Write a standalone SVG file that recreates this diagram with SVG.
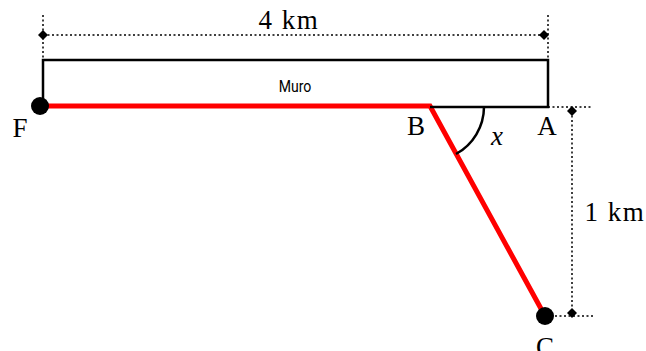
<svg xmlns="http://www.w3.org/2000/svg" width="646" height="351" viewBox="0 0 646 351">
<style>
.lbl{font-family:"Liberation Serif","DejaVu Serif",serif;font-size:27px;fill:#000;text-anchor:middle}
.dist{letter-spacing:1.5px}
.dim{stroke:#000;stroke-width:1.5;stroke-dasharray:2 2.5;fill:none}
.dia{fill:#000}
</style>
<rect width="646" height="351" fill="#fff"/>
<g id="connectors">
<path d="M43,35 H545 M43,15 V60 M548,15 V60" class="dim"/>
<path d="M548,107 H592 M572,111 V314 M555,316 H593" class="dim"/>
<path class="dia" d="M43,30 L48,35 L43,40 L38,35Z"/>
<path class="dia" d="M544,30 L549,35 L544,40 L539,35Z"/>
<path class="dia" d="M572,106 L577,111 L572,116 L567,111Z"/>
<path class="dia" d="M572,308 L577,313 L572,318 L567,313Z"/>
<path d="M41,106 H430 L545,316" stroke="#f00" stroke-width="5" fill="none" stroke-linejoin="miter"/>
<path d="M484,107 A54,54 0 0 1 456,154" stroke="#000" stroke-width="2.5" fill="none"/>
</g>
<g id="wall">
<path d="M43,106 V60 H548 V107 H430" stroke="#000" stroke-width="2.5" fill="none"/>
<text x="295" y="92" font-family="Roboto,'Liberation Sans',sans-serif" font-size="16" text-anchor="middle" transform="translate(295,0) scale(0.88,1) translate(-295,0)">Muro</text>
</g>
<g id="F"><circle cx="40" cy="106" r="9"/><text class="lbl" x="20" y="137">F</text></g>
<g id="B"><text class="lbl" x="416" y="135">B</text></g>
<g id="A"><text class="lbl" x="547" y="135">A</text></g>
<g id="C"><circle cx="545" cy="316" r="9"/><text class="lbl" x="545" y="356">C</text></g>
<text class="lbl" x="497" y="145" font-style="italic">x</text>
<text class="lbl dist" x="289" y="29">4 km</text>
<text class="lbl dist" x="615" y="221">1 km</text>
</svg>
